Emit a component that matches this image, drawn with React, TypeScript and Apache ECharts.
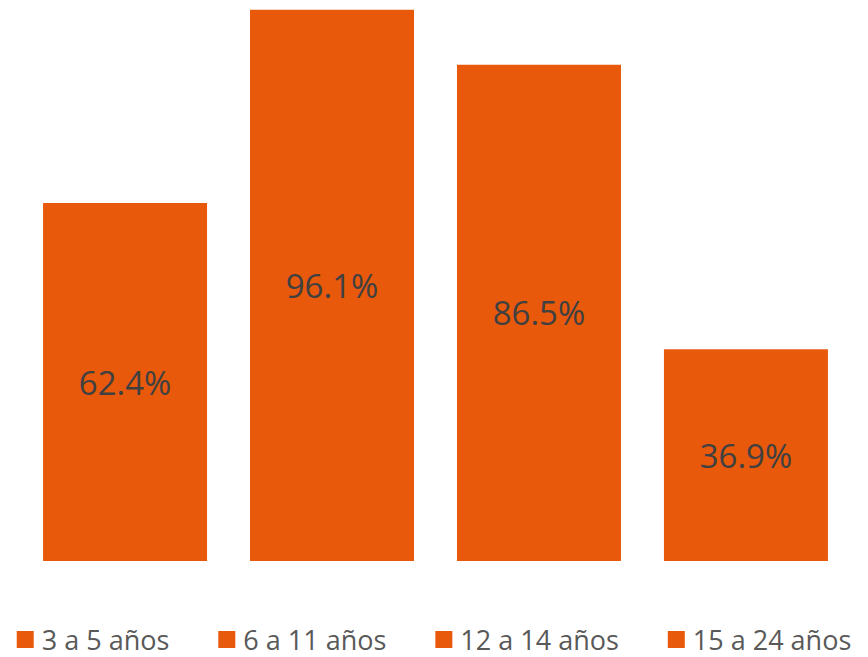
import React, { useEffect, useRef } from "react";
import * as echarts from "echarts";

const categories = [""];
const seriesNames = ["3 a 5 años", "6 a 11 años", "12 a 14 años", "15 a 24 años"];
const seriesValues = [62.4, 96.1, 86.5, 36.9];

const BAR_COLOR = "#E8590C";

export default function App() {
  const ref = useRef<HTMLDivElement>(null);
  useEffect(() => {
    if (!ref.current) return;
    const chart = echarts.init(ref.current, null, { renderer: "svg" });
    chart.setOption({
      animation: false,
      backgroundColor: "#ffffff",
      grid: { left: 21, right: 18, top: 0, bottom: 96, containLabel: false },
      legend: {
        top: 626,
        left: "center",
        padding: 0,
        itemWidth: 17,
        itemHeight: 17,
        itemGap: 49,
        icon: "rect",
        textStyle: {
          fontSize: 27,
          lineHeight: 26,
          color: "#595959",
          fontFamily: "Open Sans",
          padding: [0, 0, 0, 3],
        },
        data: seriesNames,
      },
      xAxis: {
        type: "category",
        data: categories,
        axisLine: { show: false },
        axisTick: { show: false },
        axisLabel: { show: false },
      },
      yAxis: {
        type: "value",
        min: 0,
        max: 97.8,
        show: false,
        splitLine: { show: false },
      },
      series: seriesNames.map((name, i) => ({
        name,
        type: "bar",
        data: [seriesValues[i]],
        barWidth: 164,
        barGap: "26.2%",
        itemStyle: { color: BAR_COLOR },
        label: {
          show: true,
          position: "inside",
          formatter: (p: any) => p.value.toFixed(1) + "%",
          fontSize: 33,
          color: "#404040",
          fontFamily: "Open Sans",
        },
      })),
    });
    return () => chart.dispose();
  }, []);
  return (
    <div
      ref={ref}
      style={{ position: "fixed", left: 0, top: 0, width: 868, height: 657 }}
    />
  );
}
